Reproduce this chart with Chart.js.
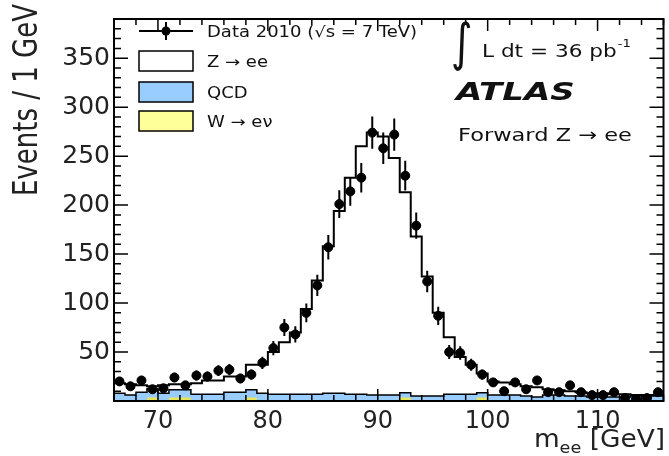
<!DOCTYPE html>
<html>
<head>
<meta charset="utf-8">
<script src="https://cdn.jsdelivr.net/npm/chart.js@4.4.0/dist/chart.umd.min.js"></script>
<style>
  html, body { margin: 0; padding: 0; background: #fff; }
  #wrap { width: 669px; height: 456px; }
</style>
</head>
<body>
<div id="wrap"><canvas id="massChart" width="669" height="456"></canvas></div>
<script>
// lower edge of each 1 GeV bin
const binLow = [66, 67, 68, 69, 70, 71, 72, 73, 74, 75,
                76, 77, 78, 79, 80, 81, 82, 83, 84, 85,
                86, 87, 88, 89, 90, 91, 92, 93, 94, 95,
                96, 97, 98, 99, 100, 101, 102, 103, 104, 105,
                106, 107, 108, 109, 110, 111, 112, 113, 114, 115];
const binWidth = 1;

const dataCounts = [20, 15, 21, 12, 13, 24, 16, 26, 25, 31,
                    32, 23, 27, 39, 54, 75, 68, 90, 118, 157,
                    201, 214, 228, 274, 258, 272, 230, 179, 122, 87,
                    50, 49, 37, 27, 19, 10, 19, 12, 21, 9,
                    9, 16, 9, 6, 6, 9, 3, 2, 3, 9];

const zeeMC = [10, 11, 7, 2.5, 8, 5.5, 5.5, 11, 14, 14,
               16, 16, 25.5, 29, 43, 53, 63, 87, 116, 150,
               186, 221, 253, 268, 264, 242, 204.5, 163, 122, 85,
               58, 38, 30, 19.5, 14, 13, 11, 10, 10, 6,
               5, 5, 4, 4, 4, 3, 3, 1, 1, 1];

const qcdMC = [8, 6, 9, 9, 8, 8, 8, 7, 7, 7,
               9, 9, 8, 8, 7, 7, 7, 7, 7, 8,
               8, 7, 7, 6, 6, 6, 5, 5, 5, 5,
               7, 7, 7, 5, 6, 6, 6, 5, 4, 6,
               6, 5, 5, 4, 4, 4, 4, 5, 5, 5];

const wenuMC = [0, 0, 0, 3.5, 0, 3.5, 3.5, 0, 0, 0,
                0, 0, 3.5, 0, 0, 0, 0, 0, 0, 0,
                0, 0, 0, 0, 0, 0, 3.5, 0, 0, 0,
                0, 0, 0, 3.5, 0, 0, 0, 0, 0, 0,
                0, 0, 0, 0, 0, 0, 0, 0, 0, 0];

const xTicks = [70, 80, 90, 100, 110];
const yTicks = [50, 100, 150, 200, 250, 300, 350];

const FONT = '"DejaVu Sans", "Liberation Sans", sans-serif';

// stack W, then QCD, then Z -> ee on top
const wTop = wenuMC.slice();
const qcdTop = qcdMC.map((v, i) => v + wTop[i]);
const mcTotal = zeeMC.map((v, i) => v + qcdTop[i]);

// histogram outline: one point per lower edge plus the last upper edge
function stepPoints(values) {
    const pts = binLow.map((lo, i) => ({x: lo, y: values[i]}));
    const last = binLow.length - 1;
    pts.push({x: binLow[last] + binWidth, y: values[last]});
    return pts;
}

const dataPoints = binLow.map((lo, i) => ({x: lo + binWidth / 2, y: dataCounts[i]}));

// draw text squeezed/stretched along x
function wideText(ctx, text, x, y, font, sx, align) {
    ctx.save();
    ctx.font = font;
    ctx.textAlign = align || 'left';
    ctx.translate(x, y);
    ctx.scale(sx, 1);
    ctx.fillText(text, 0, 0);
    const w = ctx.measureText(text).width * sx;
    ctx.restore();
    return w;
}

const atlasDecor = {
    id: 'atlasDecor',
    afterDatasetsDraw(chart) {
        const {ctx, chartArea: a, scales: {x, y}} = chart;
        ctx.save();

        // error bars on data
        ctx.beginPath();
        ctx.rect(a.left, a.top, a.width, a.height);
        ctx.clip();
        ctx.strokeStyle = '#000';
        ctx.lineWidth = 2;
        dataCounts.forEach((n, i) => {
            const cx = x.getPixelForValue(binLow[i] + binWidth / 2);
            const cy = y.getPixelForValue(n);
            const err = Math.sqrt(n);
            ctx.beginPath();
            ctx.moveTo(cx, y.getPixelForValue(n + err));
            ctx.lineTo(cx, y.getPixelForValue(Math.max(n - err, 0)));
            ctx.moveTo(x.getPixelForValue(binLow[i] + 0.1), cy);
            ctx.lineTo(x.getPixelForValue(binLow[i] + 0.9), cy);
            ctx.stroke();
        });
        ctx.restore();

        // inward ticks on all four sides
        ctx.save();
        ctx.strokeStyle = '#000';
        ctx.lineWidth = 1.5;
        ctx.beginPath();
        for (let v = 66; v <= 116; v += 2) {
            const px = x.getPixelForValue(v);
            const len = v % 10 === 0 ? 12 : 6;
            ctx.moveTo(px, a.bottom); ctx.lineTo(px, a.bottom - len);
            ctx.moveTo(px, a.top); ctx.lineTo(px, a.top + len);
        }
        for (let v = 10; v < 390; v += 10) {
            const py = y.getPixelForValue(v);
            const len = v % 50 === 0 ? 14 : 7;
            ctx.moveTo(a.left, py); ctx.lineTo(a.left + len, py);
            ctx.moveTo(a.right, py); ctx.lineTo(a.right - len, py);
        }
        ctx.stroke();
        ctx.lineWidth = 2;
        ctx.strokeRect(a.left, a.top, a.width, a.height);
        ctx.restore();
    },
    afterDraw(chart) {
        const {ctx} = chart;
        ctx.save();
        ctx.fillStyle = '#222';
        ctx.textBaseline = 'alphabetic';

        // y title, rotated, aligned to the top
        ctx.save();
        ctx.translate(37, 4);
        ctx.rotate(-Math.PI / 2);
        ctx.scale(1, 1.3);
        ctx.font = '26px ' + FONT;
        ctx.textAlign = 'right';
        ctx.fillText('Events / 1 GeV', 0, 0);
        ctx.restore();

        // x title with subscript
        ctx.save();
        ctx.font = '24px ' + FONT;
        const rest = ' [GeV]';
        const restW = ctx.measureText(rest).width * 1.1;
        ctx.font = '16px ' + FONT;
        const subW = ctx.measureText('ee').width * 1.1;
        ctx.font = '24px ' + FONT;
        const mW = ctx.measureText('m').width * 1.1;
        const right = 665;
        const base = 447;
        wideText(ctx, rest, right - restW, base, '24px ' + FONT, 1.1);
        wideText(ctx, 'ee', right - restW - subW, base + 6, '16px ' + FONT, 1.1);
        wideText(ctx, 'm', right - restW - subW - mW, base, '24px ' + FONT, 1.1);
        ctx.restore();

        // legend
        ctx.fillStyle = '#000';
        ctx.strokeStyle = '#000';
        ctx.lineWidth = 2;
        ctx.beginPath();
        ctx.moveTo(139, 31); ctx.lineTo(193, 31);
        ctx.moveTo(166, 22); ctx.lineTo(166, 40);
        ctx.stroke();
        ctx.beginPath();
        ctx.arc(166, 31, 4.5, 0, Math.PI * 2);
        ctx.fill();

        const boxes = [
            {top: 51, fill: '#ffffff'},
            {top: 82, fill: '#99ccff'},
            {top: 111, fill: '#ffff99'}
        ];
        ctx.lineWidth = 1.5;
        boxes.forEach(b => {
            ctx.fillStyle = b.fill;
            ctx.fillRect(139, b.top, 54, 20);
            ctx.strokeRect(139, b.top, 54, 20);
        });

        ctx.fillStyle = '#111';
        const lf = '15px ' + FONT;
        wideText(ctx, 'Data 2010 (\u221As = 7 TeV)', 207, 37, lf, 1.2);
        wideText(ctx, 'Z \u2192 ee', 207, 67, lf, 1.2);
        wideText(ctx, 'QCD', 207, 98, lf, 1.2);
        wideText(ctx, 'W \u2192 e\u03bd', 207, 127, lf, 1.2);

        // luminosity, ATLAS label, channel
        ctx.save();
        ctx.font = '38px ' + FONT;
        ctx.translate(451, 60);
        ctx.scale(1.1, 1.35);
        ctx.fillText('\u222B', 0, 0);
        ctx.restore();
        const lw = wideText(ctx, 'L dt = 36 pb', 482, 57, '18px ' + FONT, 1.2);
        wideText(ctx, '-1', 482 + lw + 1, 47, '11px ' + FONT, 1.2);
        wideText(ctx, 'ATLAS', 456, 100, 'bold italic 25px ' + FONT, 1.36);
        wideText(ctx, 'Forward Z \u2192 ee', 458, 141, '18px ' + FONT, 1.25);

        ctx.restore();
    }
};

new Chart(document.getElementById('massChart'), {
    type: 'line',
    data: {
        datasets: [
            {
                label: 'Data 2010',
                data: dataPoints,
                showLine: false,
                pointRadius: 4.5,
                pointBackgroundColor: '#000',
                pointBorderColor: '#000',
                order: 0
            },
            {
                label: 'Z \u2192 ee',
                data: stepPoints(mcTotal),
                stepped: true,
                borderColor: '#000',
                borderWidth: 2,
                pointRadius: 0,
                fill: false,
                order: 1
            },
            {
                label: 'W \u2192 e\u03bd',
                data: stepPoints(wTop),
                stepped: true,
                borderColor: 'rgba(0,0,0,0)',
                borderWidth: 0,
                backgroundColor: '#e6e65c',
                pointRadius: 0,
                fill: 'origin',
                order: 2
            },
            {
                label: 'QCD',
                data: stepPoints(qcdTop),
                stepped: true,
                borderColor: '#000',
                borderWidth: 1.5,
                backgroundColor: '#99ccff',
                pointRadius: 0,
                fill: 'origin',
                order: 3
            }
        ]
    },
    options: {
        responsive: false,
        animation: false,
        devicePixelRatio: 1,
        layout: {padding: {top: 9, right: 3, left: 0, bottom: 0}},
        plugins: {
            legend: {display: false},
            tooltip: {enabled: false}
        },
        scales: {
            x: {
                type: 'linear',
                min: 66,
                max: 116,
                afterBuildTicks: s => { s.ticks = xTicks.map(v => ({value: v})); },
                afterFit: s => { s.height = 55; },
                grid: {display: false, drawTicks: false},
                border: {display: false},
                ticks: {
                    font: {size: 24, family: FONT},
                    color: '#222',
                    padding: 6,
                    maxRotation: 0
                }
            },
            y: {
                min: 0,
                max: 390,
                afterBuildTicks: s => { s.ticks = yTicks.map(v => ({value: v})); },
                afterFit: s => { s.width = 114; },
                grid: {display: false, drawTicks: false},
                border: {display: false},
                ticks: {
                    font: {size: 25, family: FONT},
                    color: '#222',
                    padding: 4
                }
            }
        }
    },
    plugins: [atlasDecor]
});
</script>
</body>
</html>
